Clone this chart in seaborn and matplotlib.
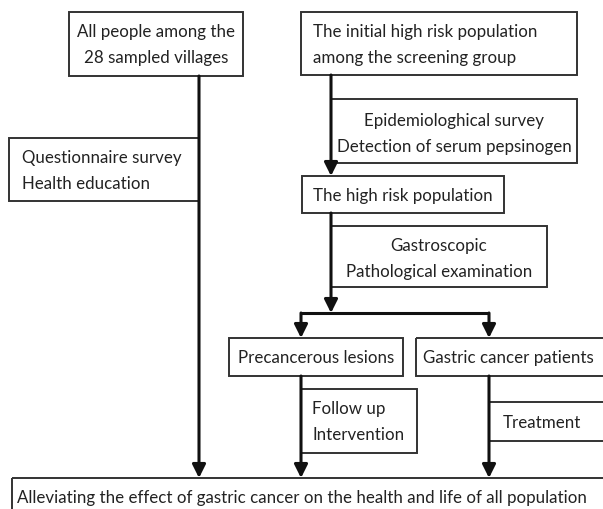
import matplotlib
matplotlib.use("Agg")
import matplotlib.pyplot as plt
import seaborn as sns
from matplotlib.patches import Rectangle

# Box labels
box_texts = [
    "All people among the\n28 sampled villages",
    "The initial high risk population\namong the screening group",
    "Epidemiologhical survey\nDetection of serum pepsinogen",
    "Questionnaire survey\nHealth education",
    "The high risk population",
    "Gastroscopic\nPathological examination",
    "Precancerous lesions",
    "Gastric cancer patients",
    "Follow up\nIntervention",
    "Treatment",
    "Alleviating the effect of gastric cancer on the health and life of all population",
]

# Box geometry (x0, y0, x1, y1) in image pixels, y pointing down
boxes = [
    (69, 13, 243, 77),
    (301, 13, 577, 76),
    (331, 100, 577, 164),
    (9, 139, 199, 202),
    (302, 177, 504, 214),
    (331, 227, 547, 288),
    (229, 339, 403, 377),
    (416, 339, 606, 377),
    (301, 390, 417, 454),
    (489, 403, 606, 442),
    (12, 479, 610, 520),
]

# text anchor (x, y, alignment)
text_pos = [
    (156, 45, "center"),
    (313, 45, "left"),
    (454, 134, "center"),
    (22, 171, "left"),
    (403, 196, "center"),
    (439, 259, "center"),
    (316, 358, "center"),
    (423, 358, "left"),
    (312, 422, "left"),
    (503, 423, "left"),
    (17, 498, "left"),
]

# connectors: (x0, y0, x1, y1, arrow)
links = [
    (199, 77, 199, 479, True),
    (331, 76, 331, 177, True),
    (331, 214, 331, 314, True),
    (301, 314, 489, 314, False),
    (301, 314, 301, 339, True),
    (489, 314, 489, 339, True),
    (301, 377, 301, 479, True),
    (489, 377, 489, 479, True),
]

sns.set_style("white")
plt.rcParams['font.family'] = ['Lato', 'DejaVu Sans']

fig = plt.figure(figsize=(6.03, 5.10), dpi=100)
ax = fig.add_axes([0, 0, 1, 1])
ax.set_xlim(0, 603)
ax.set_ylim(510, 0)
ax.axis('off')

line_col = '#111111'
box_col = '#333333'
txt_col = '#222222'

for (x0, y0, x1, y1) in boxes:
    ax.add_patch(Rectangle((x0, y0), x1 - x0, y1 - y0, fill=False,
                           edgecolor=box_col, linewidth=1.4))

for label, (tx, ty, ha) in zip(box_texts, text_pos):
    ax.text(tx, ty, label, ha=ha, va='center', fontsize=12.2,
            color=txt_col, linespacing=1.72)

for (x0, y0, x1, y1, arrow) in links:
    if arrow:
        ax.annotate('', xy=(x1, y1), xytext=(x0, y0),
                    arrowprops=dict(arrowstyle='-|>,head_length=0.4,head_width=0.2',
                                    mutation_scale=20, lw=2.2, color=line_col,
                                    shrinkA=0, shrinkB=0))
    else:
        ax.plot([x0, x1], [y0, y1], color=line_col, lw=2.2, solid_capstyle='butt')

fig.savefig('out.png', dpi=100)
